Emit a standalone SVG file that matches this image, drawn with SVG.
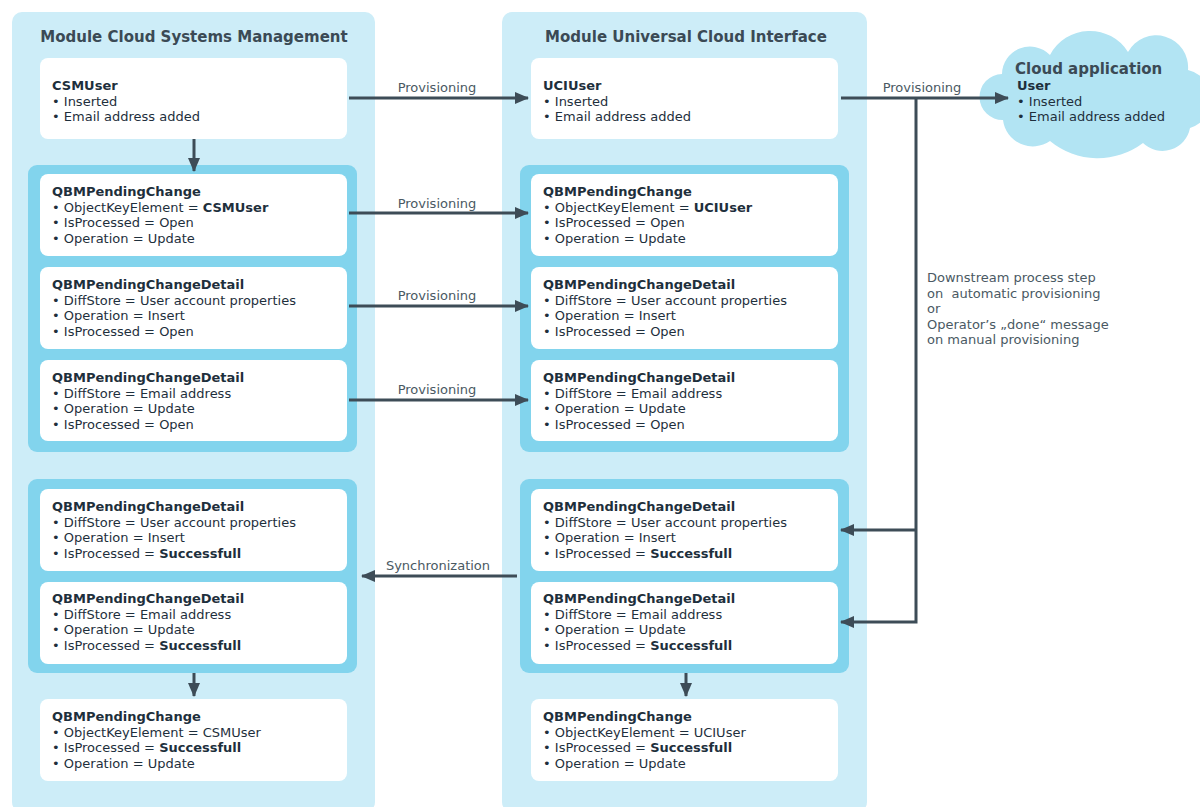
<svg xmlns="http://www.w3.org/2000/svg" width="1200" height="807" viewBox="0 0 1200 807">
<style>
.panel{fill:#cdedf8}
.grp{fill:#82d4ed}
.node{fill:#ffffff}
.ptitle{font-family:"DejaVu Sans",Verdana,sans-serif;font-size:15px;font-weight:bold;fill:#3b4a55}
.t{font-family:"DejaVu Sans",Verdana,sans-serif;font-size:13px;fill:#1e2f3c}
.b{font-weight:bold}
.lbl{font-family:"DejaVu Sans",Verdana,sans-serif;font-size:13px;fill:#4a5963}
.conn{stroke:#3d4c57;stroke-width:3;fill:none}
.cloud{fill:#b2e4f3}
</style>
<defs>
<marker id="ah" markerUnits="userSpaceOnUse" markerWidth="14" markerHeight="12" refX="13" refY="6" orient="auto">
<path d="M0,0 L14,6 L0,12 Z" fill="#3d4c57"/>
</marker>
</defs>

<g id="panel-csm">
<rect class="panel" x="12" y="12" width="363" height="800" rx="10"/>
<text class="ptitle" x="194" y="42" text-anchor="middle">Module Cloud Systems Management</text>
</g>
<g id="panel-uci">
<rect class="panel" x="502" y="12" width="365" height="800" rx="10"/>
<text class="ptitle" x="686" y="42" text-anchor="middle">Module Universal Cloud Interface</text>
</g>

<g id="group-csm-1"><rect class="grp" x="28" y="165" width="329" height="287" rx="9"/></g>
<g id="group-csm-2"><rect class="grp" x="28" y="479" width="329" height="194" rx="9"/></g>
<g id="group-uci-1"><rect class="grp" x="520" y="165" width="329" height="287" rx="9"/></g>
<g id="group-uci-2"><rect class="grp" x="520" y="479" width="329" height="194" rx="9"/></g>

<g id="csmuser">
<rect class="node" x="40" y="58" width="307" height="81" rx="8"/>
<text class="t" x="52" y="90"><tspan class="b">CSMUser</tspan><tspan x="52" dy="15.5">• Inserted</tspan><tspan x="52" dy="15.5">• Email address added</tspan></text>
</g>
<g id="csm-pc1">
<rect class="node" x="40" y="174" width="307" height="82" rx="8"/>
<text class="t" x="52" y="196"><tspan class="b">QBMPendingChange</tspan><tspan x="52" dy="15.5">• ObjectKeyElement = <tspan class="b">CSMUser</tspan></tspan><tspan x="52" dy="15.5">• IsProcessed = Open</tspan><tspan x="52" dy="15.5">• Operation = Update</tspan></text>
</g>
<g id="csm-pcd1">
<rect class="node" x="40" y="267" width="307" height="82" rx="8"/>
<text class="t" x="52" y="289"><tspan class="b">QBMPendingChangeDetail</tspan><tspan x="52" dy="15.5">• DiffStore = User account properties</tspan><tspan x="52" dy="15.5">• Operation = Insert</tspan><tspan x="52" dy="15.5">• IsProcessed = Open</tspan></text>
</g>
<g id="csm-pcd2">
<rect class="node" x="40" y="360" width="307" height="81" rx="8"/>
<text class="t" x="52" y="382"><tspan class="b">QBMPendingChangeDetail</tspan><tspan x="52" dy="15.5">• DiffStore = Email address</tspan><tspan x="52" dy="15.5">• Operation = Update</tspan><tspan x="52" dy="15.5">• IsProcessed = Open</tspan></text>
</g>
<g id="csm-pcd3">
<rect class="node" x="40" y="489" width="307" height="82" rx="8"/>
<text class="t" x="52" y="511"><tspan class="b">QBMPendingChangeDetail</tspan><tspan x="52" dy="15.5">• DiffStore = User account properties</tspan><tspan x="52" dy="15.5">• Operation = Insert</tspan><tspan x="52" dy="15.5">• IsProcessed = <tspan class="b">Successfull</tspan></tspan></text>
</g>
<g id="csm-pcd4">
<rect class="node" x="40" y="582" width="307" height="82" rx="8"/>
<text class="t" x="52" y="603"><tspan class="b">QBMPendingChangeDetail</tspan><tspan x="52" dy="15.5">• DiffStore = Email address</tspan><tspan x="52" dy="15.5">• Operation = Update</tspan><tspan x="52" dy="15.5">• IsProcessed = <tspan class="b">Successfull</tspan></tspan></text>
</g>
<g id="csm-pc2">
<rect class="node" x="40" y="699" width="307" height="82" rx="8"/>
<text class="t" x="52" y="721"><tspan class="b">QBMPendingChange</tspan><tspan x="52" dy="15.5">• ObjectKeyElement = CSMUser</tspan><tspan x="52" dy="15.5">• IsProcessed = <tspan class="b">Successfull</tspan></tspan><tspan x="52" dy="15.5">• Operation = Update</tspan></text>
</g>

<g id="uciuser">
<rect class="node" x="531" y="58" width="307" height="81" rx="8"/>
<text class="t" x="543" y="90"><tspan class="b">UCIUser</tspan><tspan x="543" dy="15.5">• Inserted</tspan><tspan x="543" dy="15.5">• Email address added</tspan></text>
</g>
<g id="uci-pc1">
<rect class="node" x="531" y="174" width="307" height="82" rx="8"/>
<text class="t" x="543" y="196"><tspan class="b">QBMPendingChange</tspan><tspan x="543" dy="15.5">• ObjectKeyElement = <tspan class="b">UCIUser</tspan></tspan><tspan x="543" dy="15.5">• IsProcessed = Open</tspan><tspan x="543" dy="15.5">• Operation = Update</tspan></text>
</g>
<g id="uci-pcd1">
<rect class="node" x="531" y="267" width="307" height="82" rx="8"/>
<text class="t" x="543" y="289"><tspan class="b">QBMPendingChangeDetail</tspan><tspan x="543" dy="15.5">• DiffStore = User account properties</tspan><tspan x="543" dy="15.5">• Operation = Insert</tspan><tspan x="543" dy="15.5">• IsProcessed = Open</tspan></text>
</g>
<g id="uci-pcd2">
<rect class="node" x="531" y="360" width="307" height="81" rx="8"/>
<text class="t" x="543" y="382"><tspan class="b">QBMPendingChangeDetail</tspan><tspan x="543" dy="15.5">• DiffStore = Email address</tspan><tspan x="543" dy="15.5">• Operation = Update</tspan><tspan x="543" dy="15.5">• IsProcessed = Open</tspan></text>
</g>
<g id="uci-pcd3">
<rect class="node" x="531" y="489" width="307" height="82" rx="8"/>
<text class="t" x="543" y="511"><tspan class="b">QBMPendingChangeDetail</tspan><tspan x="543" dy="15.5">• DiffStore = User account properties</tspan><tspan x="543" dy="15.5">• Operation = Insert</tspan><tspan x="543" dy="15.5">• IsProcessed = <tspan class="b">Successfull</tspan></tspan></text>
</g>
<g id="uci-pcd4">
<rect class="node" x="531" y="582" width="307" height="82" rx="8"/>
<text class="t" x="543" y="603"><tspan class="b">QBMPendingChangeDetail</tspan><tspan x="543" dy="15.5">• DiffStore = Email address</tspan><tspan x="543" dy="15.5">• Operation = Update</tspan><tspan x="543" dy="15.5">• IsProcessed = <tspan class="b">Successfull</tspan></tspan></text>
</g>
<g id="uci-pc2">
<rect class="node" x="531" y="699" width="307" height="82" rx="8"/>
<text class="t" x="543" y="721"><tspan class="b">QBMPendingChange</tspan><tspan x="543" dy="15.5">• ObjectKeyElement = UCIUser</tspan><tspan x="543" dy="15.5">• IsProcessed = <tspan class="b">Successfull</tspan></tspan><tspan x="543" dy="15.5">• Operation = Update</tspan></text>
</g>

<g id="cloud-app">
<path class="cloud" d="M1003,120 A22,22 0 0 1 1002,74 A28,28 0 0 1 1050,55 A45,45 0 0 1 1128,52 A32,32 0 0 1 1188,70 A30,30 0 0 1 1190,128 A28,28 0 0 1 1143,143 A75,75 0 0 1 1050,141 A30,30 0 0 1 1003,120 Z"/>
<text class="t" x="1015" y="74" style="font-size:15px;font-weight:bold;fill:#3b4a55">Cloud application</text>
<text class="t" x="1017" y="90"><tspan class="b">User</tspan><tspan x="1017" dy="15.5">• Inserted</tspan><tspan x="1017" dy="15.5">• Email address added</tspan></text>
</g>

<g id="connectors">
<line class="conn" x1="194" y1="139" x2="194" y2="171" marker-end="url(#ah)"/>
<line class="conn" x1="349" y1="98" x2="528" y2="98" marker-end="url(#ah)"/>
<line class="conn" x1="349" y1="213" x2="528" y2="213" marker-end="url(#ah)"/>
<line class="conn" x1="349" y1="306" x2="528" y2="306" marker-end="url(#ah)"/>
<line class="conn" x1="349" y1="400" x2="528" y2="400" marker-end="url(#ah)"/>
<line class="conn" x1="841" y1="98" x2="1008" y2="98" marker-end="url(#ah)"/>
<polyline class="conn" points="916,98 916,622 841,622" marker-end="url(#ah)"/>
<line class="conn" x1="916" y1="530" x2="841" y2="530" marker-end="url(#ah)"/>
<line class="conn" x1="517" y1="576" x2="362" y2="576" marker-end="url(#ah)"/>
<line class="conn" x1="194" y1="673" x2="194" y2="696" marker-end="url(#ah)"/>
<line class="conn" x1="686" y1="673" x2="686" y2="696" marker-end="url(#ah)"/>
<text class="lbl" x="437" y="92" text-anchor="middle">Provisioning</text>
<text class="lbl" x="437" y="208" text-anchor="middle">Provisioning</text>
<text class="lbl" x="437" y="300" text-anchor="middle">Provisioning</text>
<text class="lbl" x="437" y="394" text-anchor="middle">Provisioning</text>
<text class="lbl" x="922" y="92" text-anchor="middle">Provisioning</text>
<text class="lbl" x="438" y="570" text-anchor="middle">Synchronization</text>
<text class="lbl" x="927" y="282"><tspan>Downstream process step</tspan><tspan x="927" dy="15.5">on&#160; automatic provisioning</tspan><tspan x="927" dy="15.5">or</tspan><tspan x="927" dy="15.5">Operator’s „done“ message</tspan><tspan x="927" dy="15.5">on manual provisioning</tspan></text>
</g>
</svg>
